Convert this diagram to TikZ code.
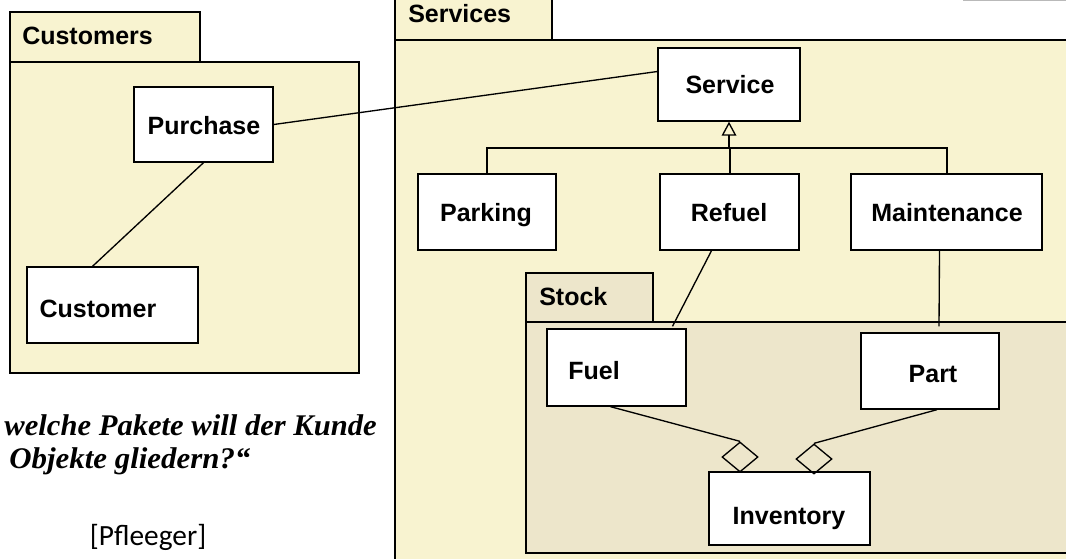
\documentclass[tikz,border=0pt]{standalone}
\usepackage{fontspec}
\setmainfont{Liberation Sans}
\newfontfamily\quotefont{Liberation Serif}
\newfontfamily\reffont{Carlito}
\usetikzlibrary{arrows.meta,shapes.geometric,fit,calc}
\definecolor{pkgfill}{RGB}{248,243,208}
\definecolor{stockfill}{RGB}{237,230,203}
\tikzset{
  pkg/.style={draw=black, line width=1.5pt, fill=pkgfill, inner sep=0pt},
  stockpkg/.style={pkg, fill=stockfill},
  cls/.style={draw=black, line width=1pt, fill=white, inner sep=0pt},
  lbl/.style={font=\bfseries\fontsize{18.75pt}{22pt}\selectfont, inner sep=0pt},
  conn/.style={line width=1pt},
  gen/.style={line width=1.5pt},
  agg/.style={diamond, draw=black, line width=1pt, inner sep=0pt,
    minimum width=27pt, minimum height=22.5pt},
  quote/.style={font=\quotefont\bfseries\itshape\fontsize{22.5pt}{26pt}\selectfont, inner sep=0pt},
  ref/.style={font=\reffont\fontsize{22pt}{26pt}\selectfont, inner sep=0pt},
}
\begin{document}
\begin{tikzpicture}[x=0.75pt,y=-0.75pt]
\useasboundingbox (0,0) rectangle (1066,558);
\fill[white] (0,0) rectangle (1066,558);

% Customers package
\node[pkg, fit={(10,62) (359,373)}] (custbody) {};
\node[pkg, fit={(10,12) (200,62)}] (custtab) {};
\node[lbl, anchor=west] (custname) at (22,36) {Customers};

% Services package
\node[pkg, fit={(395,40) (1080,575)}] (servbody) {};
\node[pkg, fit={(395,-5) (552,40)}] (servtab) {};
\node[lbl, anchor=west] (servname) at (408,14) {Services};
\draw[gray!55, line width=1pt] (963,0.5) -- (1066,0.5);

% Stock package
\node[stockpkg, fit={(526,322) (1080,553)}] (stockbody) {};
\node[stockpkg, fit={(526,273) (653,322)}] (stocktab) {};
\node[lbl, anchor=west] (stockname) at (539,297) {Stock};

% Classes
\node[cls, fit={(134,87) (273,162)}] (purchase) {};
\node[lbl] (purchaselbl) at (204,126) {Purchase};
\node[cls, fit={(27,267) (198,343)}] (customer) {};
\node[lbl] (customerlbl) at (98,309) {Customer};
\node[cls, fit={(658,48) (800,121)}] (service) {};
\node[lbl] (servicelbl) at (730,85) {Service};
\node[cls, fit={(418,174) (556,250)}] (parking) {};
\node[lbl] (parkinglbl) at (486,215) {Parking};
\node[cls, fit={(660,174) (799,250)}] (refuel) {};
\node[lbl] (refuellbl) at (729,213) {Refuel};
\node[cls, fit={(851,174) (1042,250)}] (maint) {};
\node[lbl] (maintlbl) at (947,213) {Maintenance};
\node[cls, fit={(547,329) (686,406)}] (fuel) {};
\node[lbl] (fuellbl) at (594,371) {Fuel};
\node[cls, fit={(861,333) (999,409)}] (part) {};
\node[lbl] (partlbl) at (933,374) {Part};
\node[cls, fit={(709,472) (870,545)}] (inventory) {};
\node[lbl] (inventorylbl) at (789,518) {Inventory};

% Associations
\draw[conn] (purchase.east) -- ($(service.west)+(0,-13)$);
\draw[conn] (purchase.south) -- ($(customer.north)+(-20,0)$);
\draw[conn] ($(refuel.south)+(-18,0)$) -- ($(fuel.north)+(56,-2)$);
\draw[conn] ($(maint.south)+(-7,0)$) -- ($(part.north)+(9,-6)$);

% Generalization
\coordinate (bus) at (730,148);
\draw[gen] (parking.north) |- (maint.north |- bus) -- (maint.north);
\draw[gen] (refuel.north) -- (refuel.north |- bus);
\draw[gen, -{Triangle[open, length=10.5pt, width=11pt, line width=1pt]}]
  (service.south |- bus) -- (service.south);

% Aggregations
\node[agg] (dl) at (740,457) {};
\node[agg] (dr) at (814,459) {};
\draw[conn] ($(fuel.south)+(-6,0)$) -- (dl.north);
\draw[conn] ($(part.south)+(7,0)$) -- (dr.north);

% Texts
\node[quote, anchor=base east] (q1) at (377,435) {\scalebox{1.02}[1]{welche Pakete will der Kunde}};
\node[quote, anchor=base west] (q2) at (9,468) {\scalebox{1.03}[1]{Objekte gliedern?“}};
\node[ref] (pfl) at (148,537) {[Pfleeger]};
\end{tikzpicture}
\end{document}
